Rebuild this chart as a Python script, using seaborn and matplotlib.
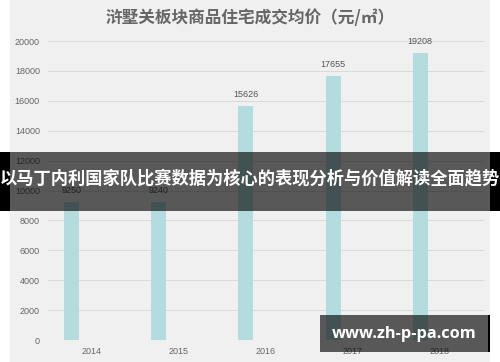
import matplotlib
matplotlib.use('Agg')
import matplotlib.pyplot as plt
import seaborn as sns
import pandas as pd
from matplotlib.patches import Rectangle

years = ['2014', '2015', '2016', '2017', '2018']
prices = [9250, 9240, 15626, 17655, 19208]
yticks = [0, 2000, 4000, 6000, 8000, 10000, 12000, 14000, 16000, 18000, 20000]
title = '浒墅关板块商品住宅成交均价（元/㎡）'
banner = '以马丁内利国家队比赛数据为核心的表现分析与价值解读全面趋势'
watermark = 'www.zh-p-pa.com'

sns.set_theme(style='white')
plt.rcParams['font.family'] = ['Noto Sans CJK SC', 'DejaVu Sans']

W, H = 500, 362
fig = plt.figure(figsize=(W / 100, H / 100), dpi=100, facecolor='white')
fig.patches.append(Rectangle((10 / W, 0), 480 / W, 1, transform=fig.transFigure,
                             facecolor='#f0f0f0', edgecolor='none', zorder=-5))

ax = fig.add_axes([47.5 / W, 22 / H, 436 / W, 299 / H])
ax.set_facecolor('none')

df = pd.DataFrame({'year': years, 'price': prices, 'series': ['价格'] * len(years)})
sns.barplot(data=df, x='year', y='price', hue='series', hue_order=['价格', '_'],
            palette={'价格': '#b3dcdf', '_': '#b3dcdf'}, width=0.9, gap=0.62,
            dodge=True, saturation=1, legend=False, ax=ax, errorbar=None,
            linewidth=0, edgecolor='none')

ax.bar_label(ax.containers[0], labels=[str(v) for v in prices], padding=5,
             fontsize=6.5, color='#555555', fontfamily='Liberation Sans')

ax.set_ylim(0, 20000)
ax.set_xlim(-0.5, 4.5)
ax.set_yticks(yticks)
ax.set_yticklabels([str(v) for v in yticks])
ax.yaxis.grid(True, color='#dadada', lw=0.7)
ax.set_axisbelow(True)
for s in ax.spines.values():
    s.set_visible(False)
ax.set_xlabel('')
ax.set_ylabel('')
ax.tick_params(axis='y', length=0, pad=5.5, labelsize=6.5, labelcolor='#666666')
ax.tick_params(axis='x', length=0, pad=5, labelsize=6.5, labelcolor='#666666')
for lab in ax.get_xticklabels() + ax.get_yticklabels():
    lab.set_fontfamily('Liberation Sans')

fig.text(0.5, 1 - 18 / H, title, ha='center', va='center', fontsize=12,
         fontweight='bold', color='#666666')

# banner overlay
by0, by1 = 152, 211
fig.patches.append(Rectangle((0, 1 - by1 / H), 10 / W, (by1 - by0) / H, transform=fig.transFigure,
                             facecolor='black', edgecolor='none', zorder=5))
fig.patches.append(Rectangle((490 / W, 1 - by1 / H), 10 / W, (by1 - by0) / H, transform=fig.transFigure,
                             facecolor='black', edgecolor='none', zorder=5))
fig.patches.append(Rectangle((10 / W, 1 - by1 / H), 480 / W, (by1 - by0) / H, transform=fig.transFigure,
                             facecolor='black', alpha=0.63, edgecolor='none', zorder=5))
fig.text(0.5, 1 - 178 / H, banner, ha='center', va='center', fontsize=12.4,
         fontweight='bold', color='white', zorder=6)

# watermark box
wy0, wy1 = 315, 352
fig.patches.append(Rectangle((320 / W, 1 - wy1 / H), 170 / W, (wy1 - wy0) / H, transform=fig.transFigure,
                             facecolor='black', alpha=0.63, edgecolor='none', zorder=5))
fig.patches.append(Rectangle((488 / W, 1 - wy1 / H), 2 / W, (wy1 - wy0) / H, transform=fig.transFigure,
                             facecolor='black', edgecolor='none', zorder=5))
fig.text(404 / W, 1 - 334 / H, watermark, ha='center', va='center', fontsize=11.8,
         fontweight='bold', color='white', family=['Open Sans', 'DejaVu Sans'], zorder=6)

fig.savefig('out.png', dpi=100, facecolor='white')
